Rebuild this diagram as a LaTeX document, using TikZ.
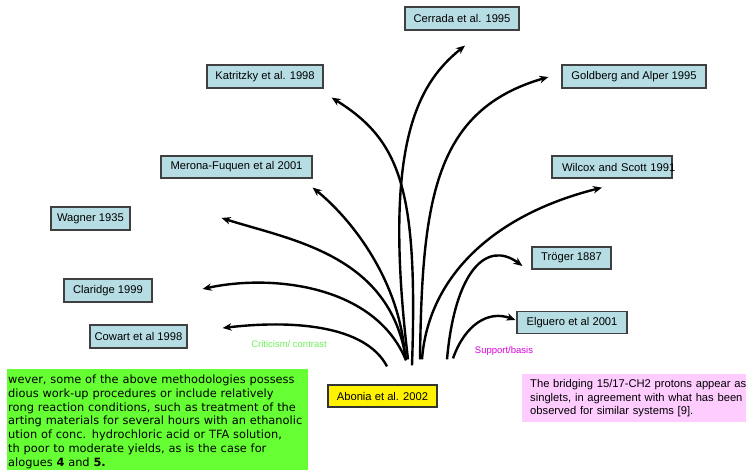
\documentclass[tikz,border=0pt]{standalone}
\usepackage{fontspec}
\setmainfont{Liberation Sans}
\newfontfamily\verdana{DejaVu Sans}
\usetikzlibrary{arrows.meta}
\definecolor{refblue}{RGB}{183,221,228}
\definecolor{boxline}{RGB}{64,64,64}
\definecolor{critgreen}{RGB}{110,240,90}
\definecolor{notegreen}{RGB}{102,255,51}
\definecolor{notepink}{RGB}{255,204,255}
\definecolor{suppmagenta}{RGB}{221,0,221}

\begin{document}
\begin{tikzpicture}[x=1pt,y=-1pt,
  ref/.style={draw=boxline,line width=1.2pt,fill=refblue,inner sep=0pt,minimum height=23pt,font=\fontsize{11.2}{13}\selectfont},
  cite/.style={line width=2.4pt,-{Stealth[length=9pt,width=7.5pt]}},
  lbl/.style={font=\fontsize{9.5}{11}\selectfont,inner sep=0pt}]
\useasboundingbox (0,0) rectangle (746,470);

\node[ref,minimum width=114pt] (cerrada) at (462,18.5) {Cerrada et al. 1995};
\node[ref,minimum width=116pt] (katritzky) at (265,76.5) {Katritzky et al. 1998};
\node[ref,minimum width=144pt] (goldberg) at (634,76.5) {Goldberg and Alper 1995};
\node[ref,minimum width=151pt,minimum height=22pt] (merona) at (236.5,167) {Merona-Fuquen et al 2001};
\node[ref,minimum height=22pt,text width=100pt,inner xsep=10pt,align=left] (wilcox) at (612,167) {\mbox{Wilcox and Scott 1991}};
\node[ref,minimum width=79pt] (wagner) at (90.5,218.5) {Wagner 1935};
\node[ref,minimum width=79pt,minimum height=22pt] (troger) at (571.5,258) {Tröger 1887};
\node[ref,minimum width=88pt] (claridge) at (108,290.5) {Claridge 1999};
\node[ref,minimum width=97pt] (cowart) at (138.5,336.5) {Cowart et al 1998};
\node[ref,minimum width=110pt,minimum height=22pt] (elguero) at (572,322.5) {Elguero et al 2001};
\node[ref,fill=yellow,draw=black!80,minimum width=109pt,minimum height=22pt] (abonia) at (382.5,396) {Abonia et al. 2002};

\node[lbl,text=critgreen] (crit) at (289,344) {Criticism/ contrast};
\node[lbl,text=suppmagenta] (supp) at (504,351) {Support/basis};

\node[fill=notegreen,anchor=north west,text width=299pt,inner xsep=1pt,inner ysep=6pt,align=left,
  font=\verdana\fontsize{11.4}{13.7}\selectfont] (critnote) at (7,369)
  {wever, some of the above methodologies possess\\
   dious work-up procedures or include relatively\\
   rong reaction conditions, such as treatment of the\\
   arting materials for several hours with an ethanolic\\
   ution of conc. hydrochloric acid or TFA solution,\\
   th poor to moderate yields, as is the case for\\
   alogues \textbf{4} and \textbf{5.}};
\node[fill=notepink,anchor=north west,text width=240pt,inner xsep=8pt,inner ysep=0pt,minimum height=48pt,align=left,
  font=\fontsize{11.2}{13.5}\selectfont] (suppnote) at (522,374)
  {The bridging 15/17-CH2 protons appear as\\
   singlets, in agreement with what has been\\
   observed for similar systems [9].};

\coordinate (oCowart) at ([shift={(4.5,-18)}]abonia.north);
\coordinate (oClaridge) at ([shift={(23.5,-24)}]abonia.north);
\coordinate (oWagner) at ([shift={(23.5,-25)}]abonia.north);
\coordinate (oMerona) at ([shift={(22.5,-27)}]abonia.north);
\coordinate (oKatritzky) at ([shift={(29.5,-19)}]abonia.north);
\coordinate (oCerrada) at ([shift={(25.5,-25)}]abonia.north);
\coordinate (oGoldberg) at ([shift={(37.5,-25)}]abonia.north);
\coordinate (oWilcox) at ([shift={(39.5,-25)}]abonia.north);
\coordinate (oTroger) at ([shift={(64.5,-25)}]abonia.north);
\coordinate (oElguero) at ([shift={(70.5,-26)}]abonia.north);

\coordinate (iCowart) at ([shift={(35,-8.5)}]cowart.east);
\coordinate (iClaridge) at ([shift={(50,-1.5)}]claridge.east);
\coordinate (iWagner) at ([shift={(91,-0.5)}]wagner.east);
\coordinate (iMerona) at ([shift={(0,9)}]merona.south east);
\coordinate (iKatritzky) at ([shift={(8,9)}]katritzky.south east);
\coordinate (iCerrada) at ([shift={(3,15)}]cerrada.south);
\coordinate (iGoldberg) at ([shift={(-13,0.5)}]goldberg.west);
\coordinate (iWilcox) at ([shift={(-10,9)}]wilcox.south);
\coordinate (iTroger) at ([shift={(-9,8)}]troger.west);
\coordinate (iElguero) at ([shift={(-1,-2.5)}]elguero.west);

\draw[cite] (oCowart) .. controls +(-22,-42) and +(68,-8) .. (iCowart);
\draw[cite] (oClaridge) .. controls +(-31,-76) and +(68,-15) .. (iClaridge);
\draw[cite] (oWagner) .. controls +(-16,-105) and +(69,22) .. (iWagner);
\draw[cite] (oMerona) .. controls +(-5,-80) and +(35,28) .. (iMerona);
\draw[cite] (oKatritzky) .. controls +(6,-176) and +(69,43) .. (iKatritzky);
\draw[cite] (oCerrada) .. controls +(-25,-210) and +(-50,40) .. (iCerrada);
\draw[cite] (oGoldberg) .. controls +(2,-160) and +(-114,33) .. (iGoldberg);
\draw[cite] (oWilcox) .. controls +(6,-80) and +(-112,28) .. (iWilcox);
\draw[cite] (oTroger) .. controls +(8,-90) and +(-35,-26) .. (iTroger);
\draw[cite] (oElguero) .. controls +(12,-34) and +(-27,-10) .. (iElguero);
\end{tikzpicture}
\end{document}
